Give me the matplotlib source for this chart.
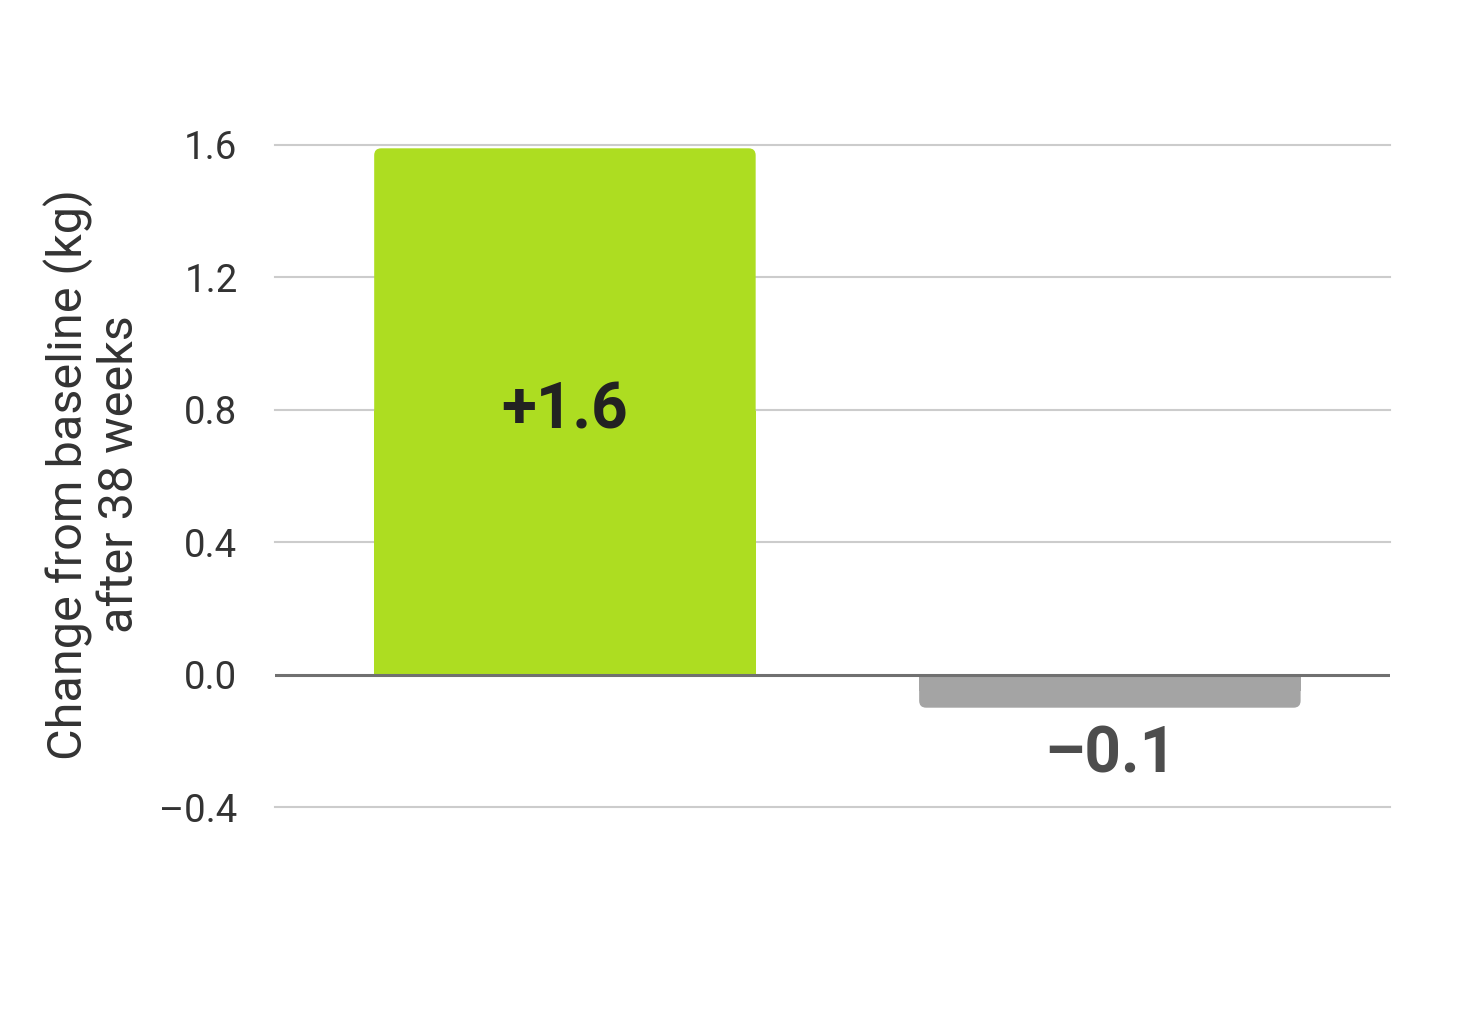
import matplotlib
matplotlib.use("Agg")
import matplotlib.pyplot as plt
from matplotlib.patches import FancyBboxPatch, Rectangle

plt.rcParams['font.family'] = ['Roboto', 'DejaVu Sans']

categories = ["Treatment", "Placebo"]
values = [1.59, -0.10]
value_labels = ["+1.6", "\u20130.1"]
bar_colors = ["#addd21", "#a4a4a4"]
label_colors = ["#222222", "#4d4d4d"]
yticks = [-0.4, 0.0, 0.4, 0.8, 1.2, 1.6]
ytick_labels = ["\u20130.4", "0.0", "0.4", "0.8", "1.2", "1.6"]

fig = plt.figure(figsize=(7.41, 5.15), dpi=200)
W, H = 1482, 1030
ax = fig.add_axes([275 / W, 1 - 807 / H, (1390 - 275) / W, (807 - 145) / H])

x = list(range(len(categories)))
bars = ax.bar(x, values, width=0.7, color="none", edgecolor="none")

ax.set_xlim(-0.532, 1.514)
ax.set_ylim(-0.4, 1.6)

# rounded corners: radius ~7 px
px_x = (1390 - 275) / (1.514 + 0.532)
px_y = (807 - 145) / 2.0
r_x = 7 / px_x
aspect = px_x / px_y

for b, c in zip(bars, bar_colors):
    x0, w = b.get_x(), b.get_width()
    y0, h = b.get_y(), b.get_height()
    ylo, yhi = min(y0, y0 + h), max(y0, y0 + h)
    fb = FancyBboxPatch((x0 + r_x, ylo + r_x * aspect), w - 2 * r_x, (yhi - ylo) - 2 * r_x * aspect,
                        boxstyle=f"round,pad={r_x},rounding_size={r_x}", mutation_aspect=aspect,
                        facecolor=c, edgecolor="none", zorder=2)
    ax.add_patch(fb)
    # square corners at the baseline
    half = (yhi - ylo) / 2
    if y0 + h >= 0:
        ax.add_patch(Rectangle((x0, 0), w, half, facecolor=c, edgecolor="none", zorder=2))
    else:
        ax.add_patch(Rectangle((x0, -half), w, half, facecolor=c, edgecolor="none", zorder=2))

for xi, v, lab, lc in zip(x, values, value_labels, label_colors):
    if v >= 0:
        ax.text(xi, v / 2, lab, ha="center", va="center", fontsize=23, fontweight="bold",
                color=lc, zorder=3)
    else:
        ax.annotate(lab, (xi, v), xytext=(0, -6.0), textcoords="offset points",
                    ha="center", va="top", fontsize=23, fontweight="bold", color=lc, zorder=3)

ax.set_yticks(yticks)
ax.set_yticklabels(ytick_labels)
ax.set_xticks([])
ax.tick_params(axis="y", length=0, pad=13.5, labelsize=13.8, labelcolor="#333333")
for yt in yticks:
    if yt == 0:
        ax.axhline(yt, color="#707070", lw=1.1, zorder=4)
    else:
        ax.axhline(yt, color="#cccccc", lw=0.75, zorder=1, clip_on=False)
for s in ax.spines.values():
    s.set_visible(False)

fig.text(93 / W, 1 - 474 / H, "Change from baseline (kg)\nafter 38 weeks", rotation=90,
         ha="center", va="center", multialignment="center", fontsize=17.5, color="#333333",
         linespacing=1.13)

fig.savefig("out.png", dpi=200, facecolor="white")
